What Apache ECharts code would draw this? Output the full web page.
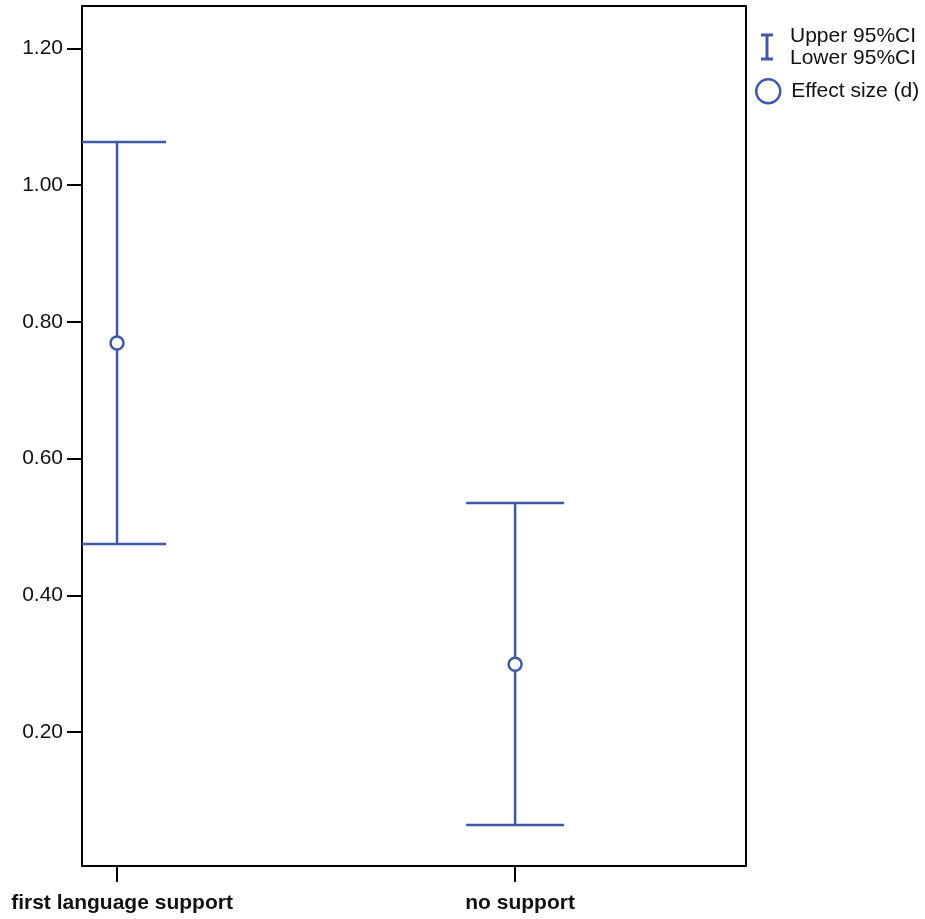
<!DOCTYPE html>
<html>
<head>
<meta charset="utf-8">
<script src="https://cdn.jsdelivr.net/npm/echarts@6/dist/echarts.min.js"></script>
<style>
  html, body { margin: 0; padding: 0; background: #fff; }
  #chart { width: 925px; height: 919px; }
</style>
</head>
<body>
<div id="chart"></div>
<script>
// Effect size (Cohen's d) with 95% confidence intervals per support condition
const categories = ['first language support', 'no support'];
const effectSize = [0.769, 0.299];
const upperCI = [1.063, 0.535];
const lowerCI = [0.475, 0.064];
const yTicks = [0.2, 0.4, 0.6, 0.8, 1.0, 1.2];

const BLUE = '#4058A8';
const FONT = 'Liberation Sans, Arial, Helvetica, sans-serif';
const CI_NAME = 'Upper 95%CI\nLower 95%CI';
const ES_NAME = 'Effect size (d)';

const ciData = categories.map((c, i) => [i, lowerCI[i], upperCI[i]]);
const esData = categories.map((c, i) => [i, effectSize[i]]);

const chart = echarts.init(document.getElementById('chart'));
chart.setOption({
  animation: false,
  backgroundColor: '#fff',
  grid: {
    left: 82, right: 179, top: 6, bottom: 53,
    show: true, borderColor: '#000', borderWidth: 2, backgroundColor: 'transparent'
  },
  legend: [
    {
      data: [{ name: CI_NAME, icon: 'path://M0,0H12V3H7.5V24H12V27H0V24H4.5V3H0Z' }],
      left: 761, top: 25, padding: 0, itemWidth: 12, itemHeight: 27,
      selectedMode: false,
      itemStyle: { color: BLUE, opacity: 1 },
      textStyle: { fontFamily: FONT, fontSize: 21, color: '#111', lineHeight: 22, padding: [0, 0, 0, 12] }
    },
    {
      data: [{ name: ES_NAME, icon: 'circle' }],
      left: 755, top: 78, padding: 0, itemWidth: 24, itemHeight: 24,
      selectedMode: false,
      itemStyle: { color: '#fff', borderColor: BLUE, borderWidth: 2.5, opacity: 1 },
      textStyle: { fontFamily: FONT, fontSize: 21, color: '#111', padding: [0, 0, 0, 6] }
    }
  ],
  xAxis: {
    type: 'value',
    min: -0.088, max: 1.58,
    splitLine: { show: false },
    axisLine: { show: false, onZero: false },
    axisTick: {
      show: true, length: 16, inside: false,
      customValues: categories.map((c, i) => i),
      lineStyle: { color: '#000', width: 2 }
    },
    axisLabel: {
      customValues: categories.map((c, i) => i),
      formatter: v => categories[Math.round(v)] || '',
      fontFamily: FONT, fontSize: 21, fontWeight: 'bold', color: '#111', margin: 27,
      padding: [0, 0, 0, 10]
    }
  },
  yAxis: {
    type: 'value',
    min: 0.004, max: 1.262,
    splitLine: { show: false },
    axisLine: { show: false, onZero: false },
    axisTick: {
      show: true, length: 15,
      customValues: yTicks,
      lineStyle: { color: '#000', width: 2 }
    },
    axisLabel: {
      customValues: yTicks,
      formatter: v => v.toFixed(2),
      fontFamily: FONT, fontSize: 21, color: '#111', margin: 19,
      padding: [6, 0, 0, 0]
    }
  },
  series: [
    {
      name: CI_NAME,
      type: 'custom',
      clip: true,
      data: ciData,
      itemStyle: { color: BLUE },
      renderItem: function (params, api) {
        const x = api.value(0);
        const lo = api.coord([x, api.value(1)]);
        const hi = api.coord([x, api.value(2)]);
        const half = 49;
        const style = { stroke: BLUE, lineWidth: 2.5, fill: null };
        return {
          type: 'group',
          children: [
            { type: 'line', shape: { x1: hi[0], y1: hi[1], x2: lo[0], y2: lo[1] }, style },
            { type: 'line', shape: { x1: hi[0] - half, y1: hi[1], x2: hi[0] + half, y2: hi[1] }, style },
            { type: 'line', shape: { x1: lo[0] - half, y1: lo[1], x2: lo[0] + half, y2: lo[1] }, style }
          ]
        };
      }
    },
    {
      name: ES_NAME,
      type: 'scatter',
      data: esData,
      symbol: 'circle',
      symbolSize: 13,
      z: 5,
      itemStyle: { color: '#fff', borderColor: BLUE, borderWidth: 2.5, opacity: 1 }
    }
  ]
});
</script>
</body>
</html>
